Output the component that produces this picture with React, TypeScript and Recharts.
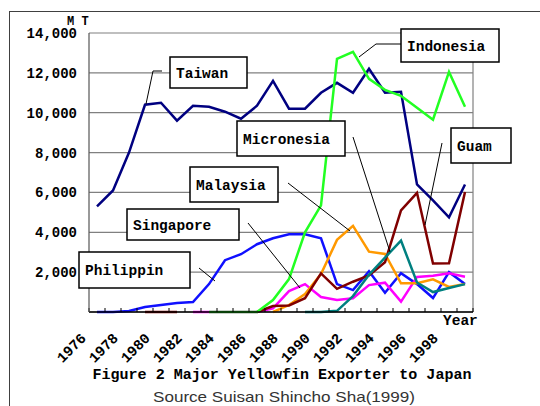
import React from "react"
import { LineChart, Line, XAxis, YAxis, CartesianGrid, ReferenceLine } from "recharts"

const years = [1976, 1977, 1978, 1979, 1980, 1981, 1982, 1983, 1984, 1985, 1986, 1987, 1988, 1989, 1990, 1991, 1992, 1993, 1994, 1995, 1996, 1997, 1998, 1999]
const yearLabels = [1976, 1978, 1980, 1982, 1984, 1986, 1988, 1990, 1992, 1994, 1996, 1998]
const bandEdges = [1975.5, 1976.5, 1977.5, 1978.5, 1979.5, 1980.5, 1981.5, 1982.5, 1983.5, 1984.5, 1985.5, 1986.5, 1987.5, 1988.5, 1989.5, 1990.5, 1991.5, 1992.5, 1993.5, 1994.5, 1995.5, 1996.5, 1997.5, 1998.5, 1999.5]
const yTicks = [0, 2000, 4000, 6000, 8000, 10000, 12000, 14000]

const taiwan = [5300, 6100, 8000, 10400, 10500, 9600, 10350, 10300, 10050, 9700, 10350, 11600, 10200, 10200, 11000, 11500, 11000, 12200, 11000, 11050, 6400, 5600, 4750, 6400]
const indonesia = [null, null, null, null, null, null, null, 0, 0, 0, 0, 600, 1650, 4000, 5350, 12700, 13050, 11700, 11150, 10850, 10250, 9650, 12050, 10300]
const philippin = [0, 0, 50, 250, 350, 450, 500, 1400, 2600, 2900, 3400, 3700, 3900, 3900, 3700, 1400, 1100, 2050, 970, 1950, 1400, 700, 2000, 1400]
const singapore = [null, null, null, null, null, null, 0, 0, 0, 0, 0, 185, 1050, 1400, 750, 600, 690, 1350, 1470, 520, 1760, 1820, 1940, 1770]
const malaysia = [null, null, null, null, null, null, null, null, null, null, null, 0, 350, 900, 1900, 3620, 4320, 3030, 2910, 1440, 1440, 1640, 1260, 1400]
const guam = [null, null, null, 0, 0, 0, null, null, null, null, 0, 300, 330, 690, 1940, 1160, 1520, 1830, 2500, 5100, 5980, 2430, 2440, 6020]
const micronesia = [null, null, null, null, null, null, null, null, null, null, null, null, null, 0, 0, 60, 800, 1870, 2730, 3580, 1480, 1000, 1200, 1400]

const data = years.map((year, i) => ({
  year,
  Taiwan: taiwan[i],
  Indonesia: indonesia[i],
  Philippin: philippin[i],
  Singapore: singapore[i],
  Malaysia: malaysia[i],
  Guam: guam[i],
  Micronesia: micronesia[i],
}))

const series = [
  { key: "Taiwan", color: "#000080" },
  { key: "Philippin", color: "#1010ff" },
  { key: "Singapore", color: "#ff00ff" },
  { key: "Malaysia", color: "#ff9900" },
  { key: "Guam", color: "#800000" },
  { key: "Micronesia", color: "#008080" },
  { key: "Indonesia", color: "#22ff22" },
]

const mono = "'Liberation Mono', 'DejaVu Sans Mono', monospace"

// callout boxes drawn over the chart
const callouts = [
  { text: "Taiwan", box: [170, 57, 77, 31], line: "162,71 153,71 146,104" },
  { text: "Indonesia", box: [401, 29, 98, 33], line: "401,44 376,44 359,57" },
  { text: "Micronesia", box: [237, 121, 108, 35], line: "353,137 390,252" },
  { text: "Guam", box: [451, 128, 60, 35], line: "442,143 425,225" },
  { text: "Malaysia", box: [190, 167, 88, 35], line: "288,183 350,231" },
  { text: "Singapore", box: [127, 209, 112, 31], line: "248,223 300,288" },
  { text: "Philippin", box: [79, 252, 111, 36], line: "199,268 215,281" },
]

// ticks sit on category edges; labels go on the even years (half a band to the right)
function YearTick(props: any) {
  const { x, y, payload } = props
  const year = payload.value + 0.5
  if (!yearLabels.includes(year)) return null
  const ax = x - 2
  const ay = y + 31
  return (
    <text x={ax} y={ay} transform={`rotate(-45 ${ax} ${ay})`} textAnchor="end" fontFamily={mono} fontWeight="bold" fontSize={14.5} fill="#000">
      {year}
    </text>
  )
}

export default function App() {
  return (
    <div style={{ position: "absolute", left: 0, top: 0, width: 540, height: 406, background: "#fff", overflow: "hidden" }}>
      <div style={{ position: "absolute", left: 9, top: 11, width: 560, height: 420, border: "1px solid #404040" }} />
      <div style={{ position: "absolute", left: 0, top: 0 }}>
        <LineChart width={540} height={406} data={data} margin={{ top: 33, right: 67, left: 0, bottom: 34 }}>
          <CartesianGrid horizontal vertical={false} stroke="#808080" strokeWidth={1.2} />
          <XAxis
            dataKey="year"
            type="number"
            domain={[1975.5, 1999.5]}
            ticks={bandEdges}
            allowDataOverflow
            interval={0}
            height={60}
            tickSize={-4}
            tickMargin={0}
            axisLine={{ stroke: "#000", strokeWidth: 1.5 }}
            tickLine={{ stroke: "#000" }}
            tick={<YearTick />}
          />
          <YAxis
            type="number"
            domain={[0, 14000]}
            ticks={yTicks}
            width={89}
            tickLine={false}
            tickSize={0}
            tickMargin={12}
            axisLine={{ stroke: "#555", strokeWidth: 1.2 }}
            tickFormatter={(v: number) => (v === 0 ? "" : v.toLocaleString("en-US"))}
            tick={{ fontFamily: mono, fontWeight: "bold", fontSize: 14, fill: "#000" }}
          />
          <ReferenceLine x={1999.5} stroke="#808080" strokeWidth={1.2} />
          {series.map((s) => (
            <Line
              key={s.key}
              type="linear"
              dataKey={s.key}
              stroke={s.color}
              strokeWidth={2.5}
              dot={false}
              isAnimationActive={false}
            />
          ))}
        </LineChart>
      </div>
      <svg width={540} height={406} style={{ position: "absolute", left: 0, top: 0, pointerEvents: "none" }}>
        <text x={67} y={25} fontFamily={mono} fontWeight="bold" fontSize={12} fill="#000">M T</text>
        <text x={443} y={325} fontFamily={mono} fontWeight="bold" fontSize={14.5} fill="#000">Year</text>
        {callouts.map((c) => (
          <g key={c.text}>
            <polyline points={c.line} fill="none" stroke="#000" strokeWidth={1} />
            <rect x={c.box[0]} y={c.box[1]} width={c.box[2]} height={c.box[3]} fill="#fff" stroke="#000" strokeWidth={1.5} />
            <text x={c.box[0] + 6} y={c.box[1] + c.box[3] / 2 + 5} fontFamily={mono} fontWeight="bold" fontSize={14.5} fill="#000">
              {c.text}
            </text>
          </g>
        ))}
        <text x={282} y={379} textAnchor="middle" fontFamily={mono} fontWeight="bold" fontSize={15.5} fill="#000" textLength={379} lengthAdjust="spacingAndGlyphs">
          Figure 2 Major Yellowfin Exporter to Japan
        </text>
        <text x={284} y={402} textAnchor="middle" fontFamily="'Liberation Sans', Arial, sans-serif" fontSize={15} fill="#333" textLength={262} lengthAdjust="spacingAndGlyphs">
          Source Suisan Shincho Sha(1999)
        </text>
      </svg>
    </div>
  )
}
